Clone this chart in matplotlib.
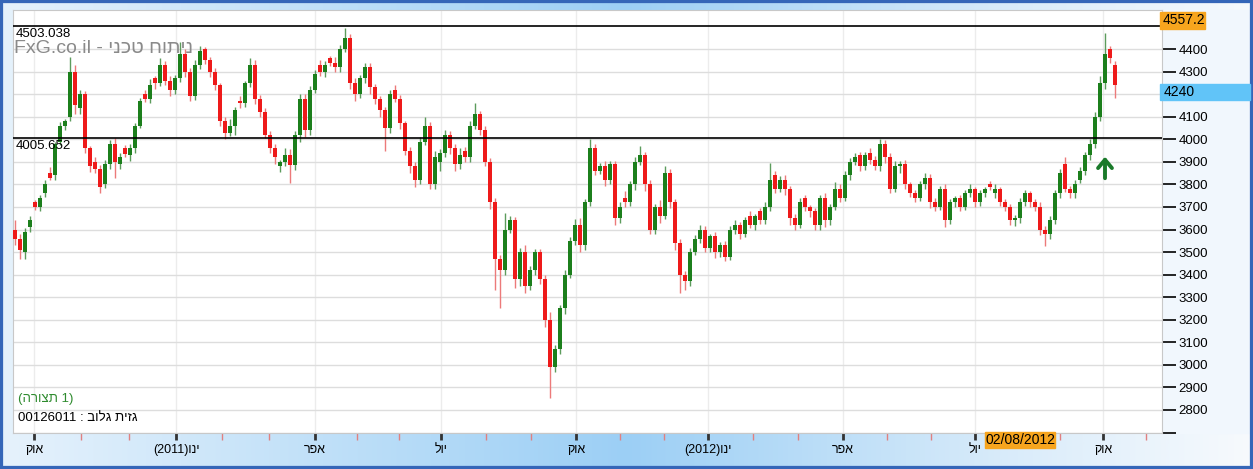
import matplotlib
matplotlib.use('Agg')
import matplotlib.pyplot as plt
from matplotlib.colors import LinearSegmentedColormap
from matplotlib.patches import Rectangle
import matplotlib.transforms as mtransforms
import numpy as np

plt.rcParams['font.family'] = ['Liberation Sans', 'DejaVu Sans']

# candle data (one candle per ~2 trading days)
closes = [3560, 3510, 3590, 3640, 3700, 3740, 3800, 3830, 3980, 4060,
          4080, 4300, 4150, 4200, 3960, 3880, 3870, 3790, 3890, 3980,
          3900, 3920, 3935, 3960, 4060, 4170, 4180, 4240, 4250, 4330,
          4260, 4220, 4270, 4380, 4300, 4190, 4330, 4390, 4350, 4300,
          4240, 4080, 4030, 4060, 4130, 4160, 4250, 4330, 4180, 4120,
          4020, 3960, 3920, 3900, 3930, 3885, 4020, 4180, 4040, 4220,
          4290, 4300, 4330, 4340, 4320, 4400, 4450, 4250, 4200, 4270,
          4320, 4230, 4180, 4130, 4050, 4200, 4180, 4070, 3950, 3880,
          3820, 3990, 4060, 3800, 3920, 3940, 4020, 3960, 3890, 3930,
          3920, 4060, 4110, 4040, 3900, 3720, 3470, 3420, 3600, 3640,
          3380, 3500, 3350, 3420, 3500, 3380, 3200, 2990, 3070, 3250,
          3400, 3550, 3620, 3530, 3720, 3960, 3860, 3880, 3820, 3890,
          3650, 3700, 3720, 3800, 3900, 3930, 3800, 3600, 3700, 3660,
          3850, 3720, 3540, 3400, 3370, 3500, 3560, 3600, 3520, 3570,
          3500, 3530, 3480, 3600, 3620, 3580, 3640, 3620, 3660, 3640,
          3700, 3820, 3780, 3820, 3780, 3650, 3620, 3720, 3700, 3680,
          3620, 3740, 3640, 3700, 3780, 3740, 3840, 3900, 3920, 3880,
          3930, 3910, 3880, 3980, 3920, 3780, 3880, 3890, 3800, 3760,
          3740, 3800, 3830, 3720, 3700, 3780, 3640, 3720, 3740, 3700,
          3760, 3780, 3720, 3760, 3780, 3790, 3780, 3720, 3700, 3640,
          3650, 3720, 3760, 3720, 3700, 3600, 3580, 3640, 3760, 3850,
          3780, 3760, 3800, 3860, 3930, 3980, 4100, 4250, 4380, 4360,
          4240]
opens = [3600, 3560, 3500, 3610, 3720, 3700, 3760, 3850, 3840, 3990,
         4060, 4100, 4300, 4140, 4200, 3960, 3900, 3870, 3800, 3890,
         3980, 3890, 3960, 3930, 3960, 4060, 4200, 4180, 4270, 4250,
         4330, 4260, 4220, 4270, 4380, 4300, 4190, 4330, 4400, 4350,
         4300, 4240, 4080, 4030, 4060, 4170, 4160, 4250, 4330, 4180,
         4120, 4020, 3960, 3880, 3900, 3930, 3885, 4020, 4180, 4040,
         4220, 4330, 4300, 4360, 4340, 4320, 4400, 4450, 4250, 4200,
         4270, 4320, 4230, 4180, 4130, 4050, 4220, 4180, 4070, 3950,
         3880, 3820, 3990, 4060, 3800, 3900, 3940, 4020, 3960, 3890,
         3950, 3920, 4060, 4110, 4040, 3900, 3720, 3470, 3420, 3600,
         3640, 3380, 3500, 3350, 3420, 3500, 3380, 3200, 2990, 3070,
         3250, 3400, 3550, 3620, 3530, 3720, 3960, 3860, 3880, 3820,
         3890, 3650, 3740, 3720, 3800, 3900, 3930, 3800, 3600, 3700,
         3660, 3850, 3720, 3540, 3400, 3370, 3500, 3560, 3600, 3520,
         3570, 3500, 3530, 3480, 3600, 3620, 3580, 3660, 3620, 3680,
         3640, 3700, 3840, 3780, 3820, 3780, 3650, 3620, 3740, 3700,
         3680, 3620, 3740, 3640, 3700, 3780, 3740, 3840, 3900, 3930,
         3880, 3940, 3910, 3880, 3980, 3920, 3780, 3880, 3890, 3800,
         3760, 3740, 3800, 3830, 3720, 3700, 3780, 3640, 3720, 3740,
         3700, 3760, 3780, 3720, 3760, 3800, 3760, 3780, 3720, 3700,
         3640, 3650, 3720, 3760, 3720, 3700, 3600, 3580, 3640, 3760,
         3890, 3780, 3760, 3820, 3860, 3930, 3980, 4100, 4250, 4400,
         4330]
wick_up = [40, 20, 15, 20, 10, 15, 20, 25, 10, 15,
           10, 65, 30, 20, 15, 10, 20, 15, 20, 15,
           25, 20, 15, 20, 10, 15, 20, 25, 10, 30,
           15, 20, 15, 50, 20, 15, 20, 25, 10, 15,
           15, 10, 20, 30, 15, 20, 10, 30, 20, 15,
           20, 15, 20, 10, 30, 25, 15, 20, 20, 15,
           15, 20, 15, 10, 25, 20, 45, 15, 20, 15,
           20, 20, 15, 10, 15, 20, 20, 15, 10, 15,
           20, 20, 40, 15, 30, 15, 20, 15, 20, 30,
           15, 20, 50, 15, 20, 15, 20, 15, 75, 20,
           15, 20, 30, 20, 15, 15, 20, 35, 20, 15,
           20, 15, 25, 30, 15, 40, 20, 15, 25, 15,
           15, 20, 30, 15, 20, 40, 15, 20, 15, 30,
           30, 20, 15, 20, 15, 20, 15, 20, 15, 10,
           20, 15, 20, 15, 20, 15, 15, 20, 10, 15,
           20, 75, 20, 15, 20, 15, 20, 20, 15, 10,
           15, 15, 20, 15, 30, 20, 20, 15, 20, 15,
           15, 20, 15, 20, 15, 20, 25, 15, 20, 10,
           15, 15, 20, 15, 20, 15, 20, 15, 10, 15,
           15, 20, 10, 15, 10, 15, 20, 10, 15, 15,
           15, 20, 15, 10, 15, 20, 15, 20, 15, 20,
           30, 15, 20, 15, 15, 20, 20, 30, 90, 15,
           15]
wick_dn = [30, 40, 30, 20, 15, 20, 15, 10, 20, 15,
           20, 20, 40, 30, 20, 25, 20, 30, 15, 20,
           70, 20, 15, 25, 20, 10, 15, 20, 25, 15,
           20, 30, 20, 15, 25, 20, 15, 20, 15, 25,
           20, 20, 30, 15, 40, 20, 15, 20, 25, 20,
           15, 20, 30, 25, 20, 80, 20, 30, 30, 20,
           15, 20, 25, 15, 20, 20, 15, 25, 30, 15,
           20, 30, 25, 30, 100, 20, 15, 25, 20, 30,
           30, 20, 15, 20, 20, 40, 20, 25, 30, 20,
           20, 20, 15, 20, 20, 30, 140, 170, 20, 15,
           40, 30, 30, 20, 20, 20, 30, 135, 20, 20,
           25, 15, 20, 30, 20, 15, 20, 15, 25, 20,
           30, 20, 20, 15, 25, 15, 30, 20, 20, 30,
           15, 25, 30, 80, 40, 20, 15, 20, 20, 20,
           25, 20, 20, 15, 20, 20, 15, 15, 20, 15,
           15, 20, 20, 15, 25, 30, 20, 15, 20, 25,
           20, 20, 30, 20, 15, 20, 15, 20, 15, 20,
           15, 20, 15, 20, 25, 20, 15, 30, 20, 15,
           20, 15, 20, 25, 20, 15, 30, 15, 20, 20,
           15, 15, 20, 15, 15, 15, 20, 15, 20, 20,
           25, 20, 15, 20, 20, 25, 55, 20, 15, 20,
           15, 20, 20, 15, 20, 20, 20, 20, 25, 20,
           55]


def rtl(s):
    # no bidi in matplotlib: hebrew words are typed in visual order
    return s[::-1]


month_labels = [rtl('אוק'), '(2011)' + rtl('ינו'), rtl('אפר'), rtl('יול'),
                rtl('אוק'), '(2012)' + rtl('ינו'), rtl('אפר'), rtl('יול'), rtl('אוק')]
y_ticks = list(range(2700, 4401, 100))
level_hi = 4503.038
level_lo = 4005.652
last_price = 4240
top_label = '4557.2'
cursor_date = '02/08/2012'
watermark = 'FxG.co.il - ' + rtl('ניתוח טכני')
pattern_text = '(' + rtl('תצורה') + ' 1)'
ticker_text = '00126011 : ' + rtl('גזית גלוב')

W, H = 1253, 469
fig = plt.figure(figsize=(W / 100, H / 100), dpi=100)


def fx(px):
    return px / W


def fy(py):
    return 1 - py / H


# background gradient and frame
bg = fig.add_axes([0, 0, 1, 1])
bg.axis('off')
cmap = LinearSegmentedColormap.from_list('bg', [(0, '#e6f2fc'), (0.5, '#9ccff5'), (0.8, '#d8ebfa'), (1, '#f7fafd')])
bg.imshow(np.linspace(0, 1, 512)[None, :], aspect='auto', cmap=cmap, extent=[0, 1, 0, 1])
bg.add_patch(Rectangle((fx(1162), fy(433)), fx(1250) - fx(1162), fy(10) - fy(433),
                       color='#f1f7fd', transform=bg.transAxes))
bg.add_patch(Rectangle((0, 0), 1, 1, fill=False, ec='#3566b8', lw=4.5, transform=bg.transAxes))
bg.set_xlim(0, 1)
bg.set_ylim(0, 1)

ax = fig.add_axes([fx(13), fy(433), fx(1162) - fx(13), fy(10) - fy(433)])
ax.set_facecolor('white')
for s in ax.spines.values():
    s.set_color('#c8c8c8')

o = np.array(opens, float)
c = np.array(closes, float)
x = np.arange(len(c))
up = c >= o
body_col = np.where(up, '#1c7f1c', '#ee1a1a')
wick_col = np.where(up, '#5c9c5c', '#ec7a7a')
top = np.maximum(o, c)
bot = np.minimum(o, c)
ax.vlines(x, bot - np.array(wick_dn), top + np.array(wick_up), colors=wick_col, lw=1, zorder=3)
ax.bar(x, np.maximum(top - bot, 4), bottom=bot, width=0.72, color=body_col, zorder=4, linewidth=0)

ax.axhline(level_hi, color='black', lw=1.2, zorder=5)
ax.axhline(level_lo, color='black', lw=1.2, zorder=5)
trans = mtransforms.blended_transform_factory(ax.transAxes, ax.transData)
ax.text(0.002, level_hi - 8, f'{level_hi:.3f}', transform=trans, fontsize=9.5, va='top', ha='left', zorder=6)
ax.text(0.002, level_lo - 8, f'{level_lo:.3f}', transform=trans, fontsize=9.5, va='top', ha='left', zorder=6)

ax.text(0.001, 0.91, watermark, transform=ax.transAxes, fontsize=14, color='#8a8a8a', va='center', zorder=2)
ax.text(0.004, 0.08, pattern_text, transform=ax.transAxes, fontsize=9.5, color='#2e8b2e', va='center', zorder=6)
ax.text(0.004, 0.035, ticker_text, transform=ax.transAxes, fontsize=9.5, color='black', va='center', zorder=6)

ax.annotate('', xy=(218, 3935), xytext=(218, 3815),
            arrowprops=dict(arrowstyle='->, head_length=0.6, head_width=0.5', color='#1a7a2a', lw=2.8), zorder=6)

# axes, ticks, grid
n_slots = (1162 - 15) / 5
ax.set_xlim(-0.4, n_slots)
ax.set_ylim(2698, 4573)
quarter_pos = [3.8, 32.2, 60, 85.2, 112.2, 138.6, 165.6, 192, 217.6]
minor_pos = []
for a, b in zip(quarter_pos[:-1], quarter_pos[1:]):
    minor_pos += [a + (b - a) / 3, a + 2 * (b - a) / 3]
minor_pos.append(quarter_pos[-1] + (quarter_pos[-1] - quarter_pos[-2]) / 3)
ax.set_xticks(quarter_pos)
ax.set_xticklabels(month_labels, fontsize=9)
ax.set_xticks(minor_pos, minor=True)
ax.tick_params(axis='x', which='major', length=5, width=2, color='#333333', pad=3)
ax.tick_params(axis='x', which='minor', length=5, width=1, color='#e08080')

ax.yaxis.tick_right()
ax.set_yticks(y_ticks)
# 2700 has no label, 4200 sits under the last-price tag
ax.set_yticklabels(['' if v in (2700, 4200) else str(v) for v in y_ticks], fontsize=9.5)
ax.tick_params(axis='y', length=10, width=1.2, color='black', pad=2)
ax.set_axisbelow(True)
ax.yaxis.grid(True, color='#dddddd', lw=1)
ax.xaxis.grid(True, which='major', color='#ececec', lw=1)

# price tags on the right axis and the cursor date
fig.patches.append(Rectangle((fx(1160), fy(29)), fx(45), 17 / H, color='#f7a51e', transform=fig.transFigure, zorder=5))
fig.text(fx(1163), fy(20.5), top_label, fontsize=10, va='center', ha='left', zorder=6)
fig.patches.append(Rectangle((fx(1160), fy(100)), fx(90), 16 / H, color='#61c4f8', transform=fig.transFigure, zorder=5))
fig.text(fx(1164), fy(92), str(last_price), fontsize=10, va='center', ha='left', zorder=6)
fig.patches.append(Rectangle((fx(985), fy(448)), fx(70), 16 / H, color='#f7a51e', transform=fig.transFigure, zorder=5))
fig.text(fx(1020), fy(440), cursor_date, fontsize=10, va='center', ha='center', zorder=6)

fig.savefig('out.png', dpi=100)
